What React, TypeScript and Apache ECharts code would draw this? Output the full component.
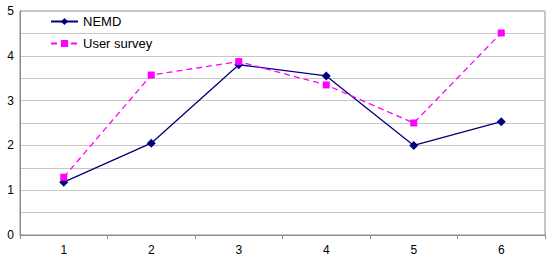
import React, { useEffect, useRef } from "react";
import * as echarts from "echarts";

const categories = ["1", "2", "3", "4", "5", "6"];
const nemd = [1.18, 2.05, 3.8, 3.55, 2.0, 2.53];
const userSurvey = [1.29, 3.57, 3.87, 3.35, 2.5, 4.51];

export default function App() {
  const ref = useRef<HTMLDivElement>(null);
  useEffect(() => {
    const chart = echarts.init(ref.current!, null, { renderer: "svg" });
    chart.setOption({
      animation: false,
      textStyle: { fontFamily: "Liberation Sans, Arial, sans-serif" },
      grid: {
        left: 20,
        right: 5,
        top: 11,
        bottom: 25,
        show: true,
        borderColor: "#8c8c8c",
        borderWidth: 1,
      },
      legend: {
        orient: "vertical",
        left: 45,
        top: 10,
        itemWidth: 27,
        itemHeight: 9,
        itemGap: 9,
        textStyle: { fontSize: 13, color: "#000" },
        data: ["NEMD", "User survey"],
      },
      xAxis: {
        type: "category",
        data: categories,
        boundaryGap: true,
        axisLine: { lineStyle: { color: "#8c8c8c" } },
        axisTick: { show: true, length: 4, lineStyle: { color: "#8c8c8c" } },
        axisLabel: { color: "#000", fontSize: 12, margin: 9 },
      },
      yAxis: {
        type: "value",
        min: 0,
        max: 5,
        interval: 0.5,
        axisLine: { show: true, lineStyle: { color: "#8c8c8c" } },
        axisTick: { show: false },
        axisLabel: {
          color: "#000",
          fontSize: 12,
          margin: 6,
          formatter: (v: number) => (Number.isInteger(v) ? String(v) : ""),
        },
        splitLine: { lineStyle: { color: "#c6c6c6", width: 1 } },
      },
      series: [
        {
          name: "NEMD",
          type: "line",
          data: nemd,
          symbol: "diamond",
          symbolSize: 9,
          itemStyle: { color: "#00007f" },
          lineStyle: { color: "#00007f", width: 1.3 },
        },
        {
          name: "User survey",
          type: "line",
          data: userSurvey,
          symbol: "rect",
          symbolSize: 7,
          itemStyle: { color: "#ff00ff" },
          lineStyle: { color: "#ff00ff", width: 1.3, type: [6, 4] },
        },
      ],
    });
    return () => chart.dispose();
  }, []);
  return <div ref={ref} style={{ width: 550, height: 260, position: "absolute", left: 0, top: 0 }} />;
}
